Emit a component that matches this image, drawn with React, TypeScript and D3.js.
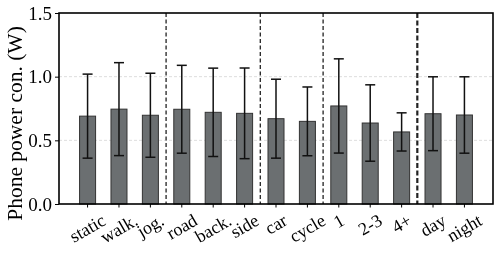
import { useEffect, useRef } from "react"
import * as d3 from "d3"

// Phone power consumption per context (W)
const categories = ["static", "walk.", "jog.", "road", "back.", "side", "car", "cycle", "1", "2-3", "4+", "day", "night"]
const means = [0.69, 0.745, 0.697, 0.744, 0.72, 0.712, 0.67, 0.649, 0.77, 0.636, 0.566, 0.709, 0.699]
const errors = [0.33, 0.365, 0.33, 0.345, 0.347, 0.356, 0.31, 0.27, 0.37, 0.3, 0.15, 0.29, 0.3]
const yTicks = [0, 0.5, 1.0, 1.5]
const gridValues = [0.5, 1.0]
// group separators are drawn right after these categories
const separatorsAfter = ["jog.", "side", "cycle", "4+"]

export default function App() {
  const svgRef = useRef<SVGSVGElement>(null)

  useEffect(() => {
    if (!svgRef.current) return
    d3.select(svgRef.current).selectAll("*").remove()

    const W = 499
    const H = 256
    const margin = { top: 13, right: 6, bottom: 52, left: 59 }
    const font = "Liberation Serif, Times New Roman, Times, serif"

    const svg = d3.select(svgRef.current).attr("width", W).attr("height", H)

    const x = d3
      .scaleBand<string>()
      .domain(categories)
      .range([margin.left, W - margin.right])
      .paddingInner(0.49)
      .paddingOuter(0.655)

    const y = d3.scaleLinear().domain([0, 1.5]).range([H - margin.bottom, margin.top])

    const bw = x.bandwidth()
    const cx = (c: string) => (x(c) as number) + bw / 2

    // grid
    svg
      .append("g")
      .selectAll("line")
      .data(gridValues)
      .enter()
      .append("line")
      .attr("x1", margin.left)
      .attr("x2", W - margin.right)
      .attr("y1", (d) => y(d))
      .attr("y2", (d) => y(d))
      .attr("stroke", "#d4d4d4")
      .attr("stroke-width", 0.8)
      .attr("stroke-dasharray", "3,2")

    // bars
    svg
      .append("g")
      .selectAll("rect")
      .data(categories)
      .enter()
      .append("rect")
      .attr("x", (d) => x(d) as number)
      .attr("y", (_, i) => y(means[i]))
      .attr("width", bw)
      .attr("height", (_, i) => y(0) - y(means[i]))
      .attr("fill", "#6b6f71")
      .attr("stroke", "#333")
      .attr("stroke-width", 1)

    // error bars
    const eg = svg.append("g").attr("stroke", "#111").attr("stroke-width", 1.5)
    categories.forEach((c, i) => {
      const lo = y(means[i] - errors[i])
      const hi = y(means[i] + errors[i])
      eg.append("line").attr("x1", cx(c)).attr("x2", cx(c)).attr("y1", lo).attr("y2", hi)
      eg.append("line").attr("x1", cx(c) - 5).attr("x2", cx(c) + 5).attr("y1", lo).attr("y2", lo)
      eg.append("line").attr("x1", cx(c) - 5).attr("x2", cx(c) + 5).attr("y1", hi).attr("y2", hi)
    })

    // separators
    svg
      .append("g")
      .selectAll("line")
      .data(separatorsAfter)
      .enter()
      .append("line")
      .attr("x1", (d) => cx(d) + x.step() / 2)
      .attr("x2", (d) => cx(d) + x.step() / 2)
      .attr("y1", margin.top)
      .attr("y2", H - margin.bottom)
      .attr("stroke", "#222")
      .attr("stroke-width", (_, i) => (i === separatorsAfter.length - 1 ? 2.2 : 1.3))
      .attr("stroke-dasharray", (_, i) => (i === separatorsAfter.length - 1 ? "5,2.5" : "4,2.5"))

    // frame
    svg
      .append("rect")
      .attr("x", margin.left)
      .attr("y", margin.top)
      .attr("width", W - margin.left - margin.right)
      .attr("height", H - margin.top - margin.bottom)
      .attr("fill", "none")
      .attr("stroke", "#000")
      .attr("stroke-width", 1.6)

    // y axis
    const yAxis = svg
      .append("g")
      .attr("transform", `translate(${margin.left},0)`)
      .call(d3.axisLeft(y).tickValues(yTicks).tickFormat(d3.format(".1f")).tickSize(4).tickPadding(3))
    yAxis.select(".domain").remove()
    yAxis.selectAll("line").attr("stroke", "#000").attr("stroke-width", 1)
    yAxis.selectAll("text").style("font-family", font).style("font-size", "19px").attr("fill", "#000")

    // x ticks
    svg
      .append("g")
      .selectAll("line")
      .data(categories)
      .enter()
      .append("line")
      .attr("x1", (d) => cx(d))
      .attr("x2", (d) => cx(d))
      .attr("y1", H - margin.bottom)
      .attr("y2", H - margin.bottom + 3.5)
      .attr("stroke", "#000")
      .attr("stroke-width", 1)

    // x labels: rotated 30deg, bbox centered on the tick, top aligned
    const fs = 18
    const ang = (30 * Math.PI) / 180
    const top = H - margin.bottom + 9
    const xl = svg.append("g")
    categories.forEach((c) => {
      const t = xl
        .append("text")
        .style("font-family", font)
        .style("font-size", `${fs}px`)
        .attr("fill", "#000")
        .attr("text-anchor", "middle")
        .attr("dominant-baseline", "central")
        .text(c)
      const L = (t.node() as SVGTextElement).getComputedTextLength()
      const h = fs * 0.75
      const cy = top + (L * Math.sin(ang) + h * Math.cos(ang)) / 2
      t.attr("transform", `translate(${cx(c)},${cy}) rotate(-30)`)
    })

    // y label
    svg
      .append("text")
      .style("font-family", font)
      .style("font-size", "21.5px")
      .attr("fill", "#000")
      .attr("text-anchor", "middle")
      .attr("transform", `translate(22,${(margin.top + H - margin.bottom) / 2 + 15}) rotate(-90)`)
      .text("Phone power con. (W)")
  }, [])

  return (
    <div style={{ position: "fixed", left: 0, top: 0 }}>
      <svg ref={svgRef} style={{ display: "block" }}></svg>
    </div>
  )
}
